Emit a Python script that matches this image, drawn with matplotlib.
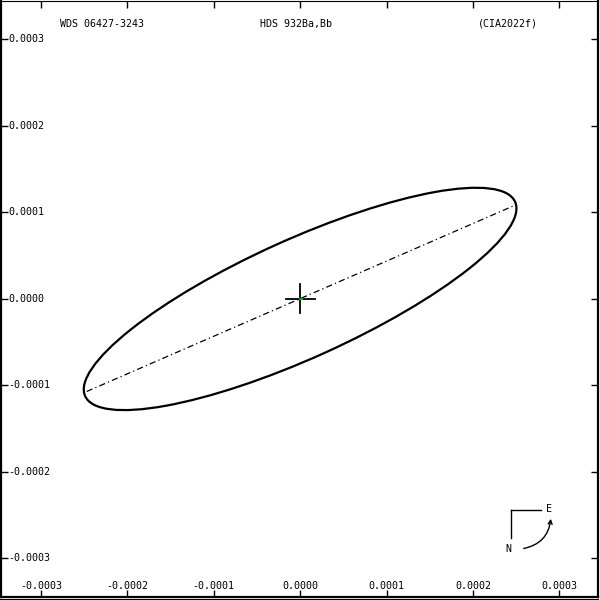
import numpy as np
import matplotlib
matplotlib.use('Agg')
import matplotlib.pyplot as plt
from matplotlib.patches import Ellipse, FancyArrowPatch
from matplotlib.lines import Line2D

# chart data
title_left = 'WDS 06427-3243'
title_mid = 'HDS 932Ba,Bb'
title_right = '(CIA2022f)'
ticks = [-0.0003, -0.0002, -0.0001, 0.0, 0.0001, 0.0002, 0.0003]
tick_labels = ['-0.0003', '-0.0002', '-0.0001', '0.0000', '0.0001', '0.0002', '0.0003']
xlim = (-0.0003462, 0.0003448)
ylim = (-0.000344, 0.000345)

orbit_center = (0.0, 0.0)
orbit_major = 2 * 0.000273
orbit_minor = 2 * 0.0000685
orbit_angle = 24.3

nodes_x = [-0.000247, 0.000248]
nodes_y = [-0.000107, 0.000108]

cross_size = 0.0000168

font = 'DejaVu Sans Mono'
fs = 7.2

fig = plt.figure(figsize=(6, 6), dpi=100)
ax = fig.add_axes([1 / 600, 3.5 / 600, 597 / 600, 596 / 600])
ax.set_xlim(*xlim)
ax.set_ylim(*ylim)

for side, s in ax.spines.items():
    s.set_color('black')
    s.set_linewidth(0.8 if side == 'top' else 1.6)

ax.set_xticks(ticks)
ax.set_yticks(ticks)
ax.tick_params(direction='in', length=5, width=1, top=True, right=True,
               labelbottom=False, labelleft=False)

# tick labels drawn inside the frame
for t, lab in zip(ticks, tick_labels):
    ax.text(t, -0.000332, lab, ha='center', va='center', fontsize=fs, family=font)
    ax.text(-0.000338, t, lab, ha='left', va='center', fontsize=fs, family=font)

# second thin line under the bottom frame
fig.add_artist(Line2D([0, 598 / 600], [0.7 / 600, 0.7 / 600], color='black',
                      linewidth=0.8, transform=fig.transFigure))

# titles
fig.text(60 / 600, 1 - 24 / 600, title_left, ha='left', va='center', fontsize=fs, family=font)
fig.text(296 / 600, 1 - 24 / 600, title_mid, ha='center', va='center', fontsize=fs, family=font)
fig.text(508 / 600, 1 - 24 / 600, title_right, ha='center', va='center', fontsize=fs, family=font)

# orbit ellipse and line of nodes
orbit = Ellipse(orbit_center, orbit_major, orbit_minor, angle=orbit_angle,
                fill=False, edgecolor='black', linewidth=1.6)
ax.add_patch(orbit)
ax.plot(nodes_x, nodes_y, color='black', linewidth=0.9,
        dashes=[5, 2.5, 1, 2.5])

# primary star
ax.plot([-cross_size, cross_size], [0, 0], color='black', linewidth=1.3)
ax.plot([0, 0], [-cross_size, cross_size], color='black', linewidth=1.3)
ax.plot([0, 0.0000025], [0, 0], color='#00cc00', linewidth=1.3)

# N/E orientation marker (figure pixel coords)
def px(x, y):
    return (x / 600, 1 - y / 600)

fig.add_artist(Line2D([511 / 600, 511 / 600], [1 - 510 / 600, 1 - 538 / 600],
                      color='black', linewidth=1, transform=fig.transFigure))
fig.add_artist(Line2D([511 / 600, 541 / 600], [1 - 510 / 600, 1 - 510 / 600],
                      color='black', linewidth=1, transform=fig.transFigure))
fig.text(*px(549, 509), 'E', ha='center', va='center', fontsize=fs, family=font)
fig.text(*px(508, 549), 'N', ha='center', va='center', fontsize=fs, family=font)
arrow = FancyArrowPatch(px(521, 549), px(551, 516), transform=fig.transFigure,
                        connectionstyle='arc3,rad=0.4', arrowstyle='->',
                        mutation_scale=7, linewidth=1, color='black')
fig.add_artist(arrow)

fig.savefig('out.png', dpi=100)
